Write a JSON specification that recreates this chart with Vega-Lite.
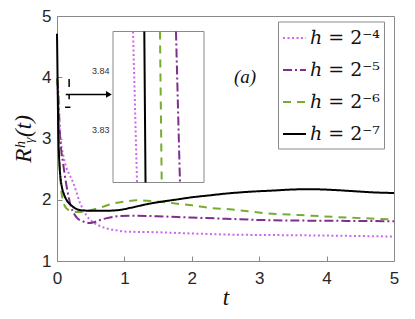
{
  "$schema": "https://vega.github.io/schema/vega-lite/v6.json",
  "width": 337,
  "height": 245,
  "autosize": {"type": "none"},
  "padding": {"left": 57, "top": 16, "right": 21, "bottom": 58},
  "background": "white",
  "config": {
    "view": {"stroke": "#8a8a8a", "strokeWidth": 1},
    "axis": {"grid": false, "domainColor": "#8a8a8a", "tickColor": "#8a8a8a", "labelColor": "#262626", "titleColor": "#111111"}
  },
  "datasets": {
    "curves": [
      {"series": "ℎ = 2⁻⁴", "t": 0, "R": 3.98},
      {"series": "ℎ = 2⁻⁴", "t": 0.008, "R": 3.83},
      {"series": "ℎ = 2⁻⁴", "t": 0.03, "R": 3.3},
      {"series": "ℎ = 2⁻⁴", "t": 0.06, "R": 2.92},
      {"series": "ℎ = 2⁻⁴", "t": 0.09, "R": 2.74},
      {"series": "ℎ = 2⁻⁴", "t": 0.14, "R": 2.52},
      {"series": "ℎ = 2⁻⁴", "t": 0.19, "R": 2.4},
      {"series": "ℎ = 2⁻⁴", "t": 0.24, "R": 2.28},
      {"series": "ℎ = 2⁻⁴", "t": 0.29, "R": 2.12},
      {"series": "ℎ = 2⁻⁴", "t": 0.34, "R": 1.95},
      {"series": "ℎ = 2⁻⁴", "t": 0.39, "R": 1.84},
      {"series": "ℎ = 2⁻⁴", "t": 0.44, "R": 1.74},
      {"series": "ℎ = 2⁻⁴", "t": 0.54, "R": 1.63},
      {"series": "ℎ = 2⁻⁴", "t": 0.64, "R": 1.57},
      {"series": "ℎ = 2⁻⁴", "t": 0.74, "R": 1.53},
      {"series": "ℎ = 2⁻⁴", "t": 0.89, "R": 1.5},
      {"series": "ℎ = 2⁻⁴", "t": 1.0, "R": 1.48},
      {"series": "ℎ = 2⁻⁴", "t": 1.48, "R": 1.47},
      {"series": "ℎ = 2⁻⁴", "t": 1.97, "R": 1.45},
      {"series": "ℎ = 2⁻⁴", "t": 2.62, "R": 1.43},
      {"series": "ℎ = 2⁻⁴", "t": 3.6, "R": 1.42},
      {"series": "ℎ = 2⁻⁴", "t": 5.0, "R": 1.4},

      {"series": "ℎ = 2⁻⁵", "t": 0, "R": 3.97},
      {"series": "ℎ = 2⁻⁵", "t": 0.015, "R": 3.83},
      {"series": "ℎ = 2⁻⁵", "t": 0.045, "R": 3.04},
      {"series": "ℎ = 2⁻⁵", "t": 0.09, "R": 2.6},
      {"series": "ℎ = 2⁻⁵", "t": 0.13, "R": 2.3},
      {"series": "ℎ = 2⁻⁵", "t": 0.17, "R": 2.06},
      {"series": "ℎ = 2⁻⁵", "t": 0.21, "R": 1.88},
      {"series": "ℎ = 2⁻⁵", "t": 0.25, "R": 1.78},
      {"series": "ℎ = 2⁻⁵", "t": 0.3, "R": 1.7},
      {"series": "ℎ = 2⁻⁵", "t": 0.38, "R": 1.65},
      {"series": "ℎ = 2⁻⁵", "t": 0.49, "R": 1.62},
      {"series": "ℎ = 2⁻⁵", "t": 0.57, "R": 1.64},
      {"series": "ℎ = 2⁻⁵", "t": 0.64, "R": 1.67},
      {"series": "ℎ = 2⁻⁵", "t": 0.74, "R": 1.7},
      {"series": "ℎ = 2⁻⁵", "t": 0.89, "R": 1.73},
      {"series": "ℎ = 2⁻⁵", "t": 1.1, "R": 1.74},
      {"series": "ℎ = 2⁻⁵", "t": 1.48, "R": 1.73},
      {"series": "ℎ = 2⁻⁵", "t": 1.97, "R": 1.71},
      {"series": "ℎ = 2⁻⁵", "t": 2.5, "R": 1.69},
      {"series": "ℎ = 2⁻⁵", "t": 3.0, "R": 1.67},
      {"series": "ℎ = 2⁻⁵", "t": 3.6, "R": 1.66},
      {"series": "ℎ = 2⁻⁵", "t": 4.3, "R": 1.655},
      {"series": "ℎ = 2⁻⁵", "t": 5.0, "R": 1.65},

      {"series": "ℎ = 2⁻⁶", "t": 0, "R": 3.98},
      {"series": "ℎ = 2⁻⁶", "t": 0.012, "R": 3.83},
      {"series": "ℎ = 2⁻⁶", "t": 0.025, "R": 3.4},
      {"series": "ℎ = 2⁻⁶", "t": 0.04, "R": 2.6},
      {"series": "ℎ = 2⁻⁶", "t": 0.06, "R": 2.2},
      {"series": "ℎ = 2⁻⁶", "t": 0.09, "R": 1.98},
      {"series": "ℎ = 2⁻⁶", "t": 0.12, "R": 1.89},
      {"series": "ℎ = 2⁻⁶", "t": 0.15, "R": 1.85},
      {"series": "ℎ = 2⁻⁶", "t": 0.2, "R": 1.82},
      {"series": "ℎ = 2⁻⁶", "t": 0.3, "R": 1.8},
      {"series": "ℎ = 2⁻⁶", "t": 0.39, "R": 1.8},
      {"series": "ℎ = 2⁻⁶", "t": 0.5, "R": 1.83},
      {"series": "ℎ = 2⁻⁶", "t": 0.64, "R": 1.87},
      {"series": "ℎ = 2⁻⁶", "t": 0.84, "R": 1.94},
      {"series": "ℎ = 2⁻⁶", "t": 1.0, "R": 1.97},
      {"series": "ℎ = 2⁻⁶", "t": 1.18, "R": 1.99},
      {"series": "ℎ = 2⁻⁶", "t": 1.4, "R": 1.98},
      {"series": "ℎ = 2⁻⁶", "t": 1.6, "R": 1.96},
      {"series": "ℎ = 2⁻⁶", "t": 1.83, "R": 1.93},
      {"series": "ℎ = 2⁻⁶", "t": 2.0, "R": 1.91},
      {"series": "ℎ = 2⁻⁶", "t": 2.25, "R": 1.87},
      {"series": "ℎ = 2⁻⁶", "t": 2.6, "R": 1.84},
      {"series": "ℎ = 2⁻⁶", "t": 3.1, "R": 1.78},
      {"series": "ℎ = 2⁻⁶", "t": 3.6, "R": 1.75},
      {"series": "ℎ = 2⁻⁶", "t": 4.1, "R": 1.72},
      {"series": "ℎ = 2⁻⁶", "t": 4.5, "R": 1.7},
      {"series": "ℎ = 2⁻⁶", "t": 5.0, "R": 1.68},

      {"series": "ℎ = 2⁻⁷", "t": 0, "R": 4.71},
      {"series": "ℎ = 2⁻⁷", "t": 0.005, "R": 4.3},
      {"series": "ℎ = 2⁻⁷", "t": 0.01, "R": 3.83},
      {"series": "ℎ = 2⁻⁷", "t": 0.02, "R": 3.05},
      {"series": "ℎ = 2⁻⁷", "t": 0.035, "R": 2.6},
      {"series": "ℎ = 2⁻⁷", "t": 0.05, "R": 2.38},
      {"series": "ℎ = 2⁻⁷", "t": 0.07, "R": 2.22},
      {"series": "ℎ = 2⁻⁷", "t": 0.1, "R": 2.1},
      {"series": "ℎ = 2⁻⁷", "t": 0.14, "R": 2.0},
      {"series": "ℎ = 2⁻⁷", "t": 0.2, "R": 1.92},
      {"series": "ℎ = 2⁻⁷", "t": 0.27, "R": 1.86},
      {"series": "ℎ = 2⁻⁷", "t": 0.35, "R": 1.83},
      {"series": "ℎ = 2⁻⁷", "t": 0.5, "R": 1.82},
      {"series": "ℎ = 2⁻⁷", "t": 0.7, "R": 1.82},
      {"series": "ℎ = 2⁻⁷", "t": 0.9, "R": 1.83},
      {"series": "ℎ = 2⁻⁷", "t": 1.1, "R": 1.87},
      {"series": "ℎ = 2⁻⁷", "t": 1.3, "R": 1.92},
      {"series": "ℎ = 2⁻⁷", "t": 1.5, "R": 1.96},
      {"series": "ℎ = 2⁻⁷", "t": 1.75, "R": 2.0},
      {"series": "ℎ = 2⁻⁷", "t": 2.0, "R": 2.04},
      {"series": "ℎ = 2⁻⁷", "t": 2.25, "R": 2.07},
      {"series": "ℎ = 2⁻⁷", "t": 2.5, "R": 2.1},
      {"series": "ℎ = 2⁻⁷", "t": 2.85, "R": 2.13},
      {"series": "ℎ = 2⁻⁷", "t": 3.2, "R": 2.15},
      {"series": "ℎ = 2⁻⁷", "t": 3.6, "R": 2.17},
      {"series": "ℎ = 2⁻⁷", "t": 3.85, "R": 2.17},
      {"series": "ℎ = 2⁻⁷", "t": 4.1, "R": 2.16},
      {"series": "ℎ = 2⁻⁷", "t": 4.4, "R": 2.14},
      {"series": "ℎ = 2⁻⁷", "t": 4.7, "R": 2.12},
      {"series": "ℎ = 2⁻⁷", "t": 5.0, "R": 2.11}
    ],
    "inset": [
      {"series": "ℎ = 2⁻⁴", "t": 0.0083, "R": 3.8466},
      {"series": "ℎ = 2⁻⁴", "t": 0.00896, "R": 3.821},
      {"series": "ℎ = 2⁻⁵", "t": 0.01538, "R": 3.8466},
      {"series": "ℎ = 2⁻⁵", "t": 0.01604, "R": 3.821},
      {"series": "ℎ = 2⁻⁶", "t": 0.01274, "R": 3.8466},
      {"series": "ℎ = 2⁻⁶", "t": 0.01303, "R": 3.821},
      {"series": "ℎ = 2⁻⁷", "t": 0.01016, "R": 3.8466},
      {"series": "ℎ = 2⁻⁷", "t": 0.01036, "R": 3.821}
    ]
  },
  "layer": [
    {
      "layer": [
        {
          "data": {"name": "curves"},
          "mark": {"type": "line", "strokeWidth": 2, "interpolate": "monotone"},
          "encoding": {
            "x": {
              "field": "t", "type": "quantitative",
              "scale": {"domain": [0, 5], "nice": false},
              "axis": {"values": [0, 1, 2, 3, 4, 5], "format": "d", "title": "t", "titleFont": "Liberation Serif", "titleFontStyle": "italic", "titleFontWeight": "normal", "titleFontSize": 23, "titlePadding": 0, "labelFont": "Liberation Sans", "labelFontSize": 17, "tickSize": -5, "labelPadding": 14, "labelFlush": false}
            },
            "y": {
              "field": "R", "type": "quantitative",
              "scale": {"domain": [1, 5], "nice": false},
              "axis": {"values": [1, 2, 3, 4, 5], "format": "d", "title": "Rʰᵧ(t)", "titleFont": "Liberation Serif", "titleFontStyle": "italic", "titleFontWeight": "normal", "titleFontSize": 23, "titlePadding": 6, "labelFont": "Liberation Sans", "labelFontSize": 17, "tickSize": -5, "labelPadding": 11, "labelFlush": false}
            },
            "color": {
              "field": "series", "type": "nominal",
              "scale": {"domain": ["ℎ = 2⁻⁴", "ℎ = 2⁻⁵", "ℎ = 2⁻⁶", "ℎ = 2⁻⁷"], "range": ["#cc66ee", "#7e2f8e", "#77ac30", "#000000"]},
              "legend": {"orient": "none", "legendX": 221, "legendY": 5.5, "title": null, "strokeColor": "#8a8a8a", "fillColor": "white", "padding": 4, "symbolType": "stroke", "symbolSize": 529, "symbolStrokeWidth": 2, "labelFont": "DejaVu Serif", "labelFontSize": 19, "labelColor": "#111111", "rowPadding": 9, "labelOffset": 3, "cornerRadius": 0}
            },
            "strokeDash": {
              "field": "series", "type": "nominal",
              "scale": {"domain": ["ℎ = 2⁻⁴", "ℎ = 2⁻⁵", "ℎ = 2⁻⁶", "ℎ = 2⁻⁷"], "range": [[2, 2.5], [9, 3, 2, 3], [8, 6], [1, 0]]},
              "legend": {"orient": "none", "legendX": 221, "legendY": 5.5, "title": null}
            }
          }
        },
        {
          "data": {"values": [
            {"t": 0.18, "t2": 0.18, "R": 3.97, "R2": 3.84},
            {"t": 0.18, "t2": 0.18, "R": 3.72, "R2": 3.64},
            {"t": 0.12, "t2": 0.2, "R": 3.51, "R2": 3.51},
            {"t": 0.13, "t2": 0.78, "R": 3.72, "R2": 3.72}
          ]},
          "mark": {"type": "rule", "color": "black", "strokeWidth": 1.5},
          "encoding": {
            "x": {"field": "t", "type": "quantitative"},
            "x2": {"field": "t2"},
            "y": {"field": "R", "type": "quantitative"},
            "y2": {"field": "R2"}
          }
        },
        {
          "data": {"values": [{"t": 0.77, "R": 3.72}]},
          "mark": {"type": "point", "shape": "triangle-right", "filled": true, "color": "black", "size": 45, "opacity": 1},
          "encoding": {
            "x": {"field": "t", "type": "quantitative"},
            "y": {"field": "R", "type": "quantitative"}
          }
        },
        {
          "data": {"values": [{"t": 2.79, "R": 4.01, "label": "(a)"}]},
          "mark": {"type": "text", "font": "Liberation Serif", "fontStyle": "italic", "fontSize": 19, "color": "#111111"},
          "encoding": {
            "x": {"field": "t", "type": "quantitative"},
            "y": {"field": "R", "type": "quantitative"},
            "text": {"field": "label"}
          }
        }
      ]
    },
    {
      "layer": [
        {
          "data": {"values": [{"t": 0.005, "t2": 0.02, "R": 3.821, "R2": 3.8466}]},
          "mark": {"type": "rect", "fill": "white", "stroke": "#8a8a8a", "strokeWidth": 1},
          "encoding": {
            "x": {"field": "t", "type": "quantitative", "scale": {"domain": [0.005, 0.02], "range": [56, 147], "nice": false, "zero": false}, "axis": null},
            "x2": {"field": "t2"},
            "y": {"field": "R", "type": "quantitative", "scale": {"domain": [3.821, 3.8466], "range": [166.5, 15.5], "nice": false, "zero": false},
              "axis": {"orient": "left", "offset": -56, "values": [3.83, 3.84], "format": ".2f", "title": null, "domain": false, "labelFont": "Liberation Sans", "labelFontSize": 9, "labelColor": "#333333", "tickSize": -2, "labelPadding": 6}},
            "y2": {"field": "R2"}
          }
        },
        {
          "data": {"name": "inset"},
          "mark": {"type": "line", "strokeWidth": 2},
          "encoding": {
            "x": {"field": "t", "type": "quantitative"},
            "y": {"field": "R", "type": "quantitative"},
            "color": {"field": "series", "type": "nominal"},
            "strokeDash": {"field": "series", "type": "nominal"},
            "detail": {"field": "series"}
          }
        }
      ]
    }
  ],
  "resolve": {"scale": {"x": "independent", "y": "independent"}}
}
